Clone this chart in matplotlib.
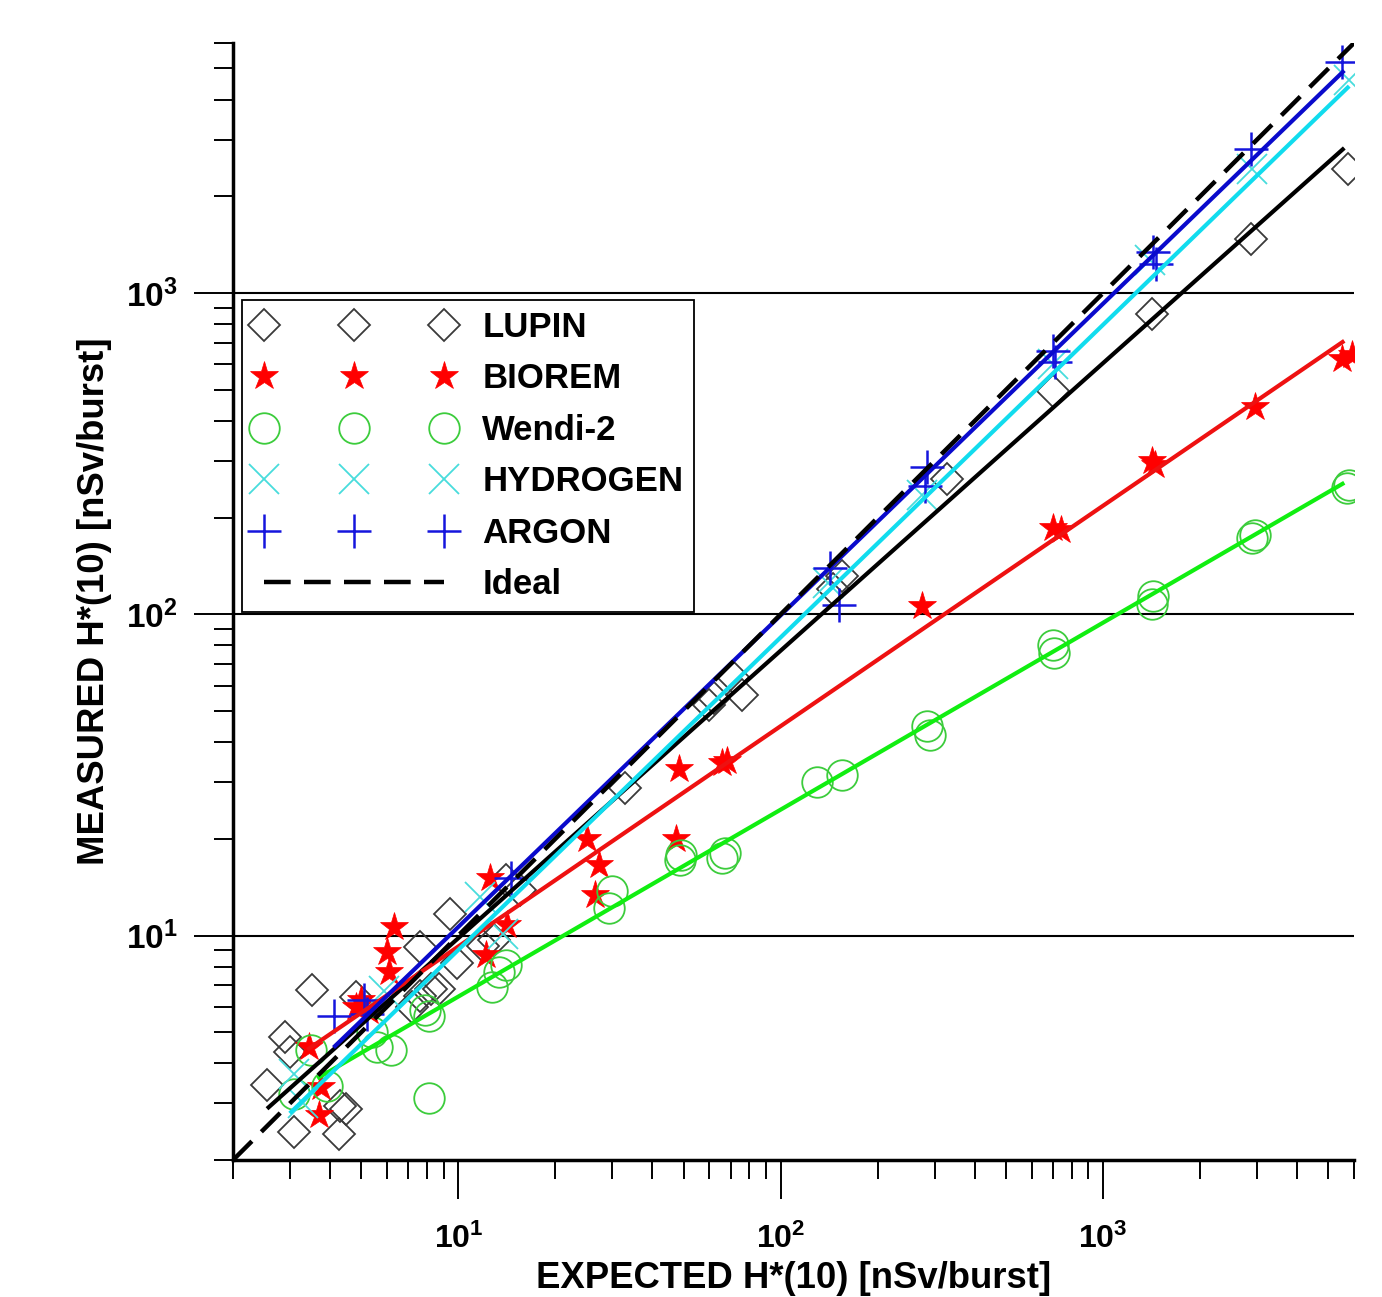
import numpy as np
import matplotlib as mpl
mpl.use("Agg")
import matplotlib.pyplot as plt
from matplotlib import font_manager
from matplotlib.ticker import LogLocator, FixedLocator, FixedFormatter, NullFormatter

mpl.rcParams.update({
	"mathtext.fontset": "custom",
	"mathtext.rm": "Liberation Sans",
	"mathtext.bf": "Liberation Sans:bold",
})

# Narrow bold is used for axis titles if installed.
FONT_NAMES = {f.name for f in font_manager.fontManager.ttflist}
if "Liberation Sans Narrow" in FONT_NAMES:
	NARROW, NSCALE = "Liberation Sans Narrow", 1.0
else:
	NARROW, NSCALE = "Liberation Sans", 0.82

# Measured vs expected H*(10) [nSv/burst].
lupin_x = [2.55, 2.90, 3.0, 3.52, 3.10, 4.27, 4.49, 4.3, 4.82, 7.2, 7.6, 8.2, 8.7,
	7.6, 9.4, 9.9, 11.9, 12.9, 14.1, 15.5, 32.8, 60, 62, 71, 75.7, 145, 155,
	328, 700, 1420, 2870, 5750]
lupin_y = [3.42, 4.82, 4.33, 6.75, 2.44, 2.41, 2.88, 2.95, 6.42, 6.0, 6.5, 6.8, 6.8,
	9.2, 11.7, 8.2, 9.3, 9.7, 14.9, 13.9, 28.8, 52, 55, 64, 56, 120, 132,
	263, 494, 861, 1470, 2425]

biorem_x = [3.44, 3.75, 3.7, 4.8, 5.0, 5.3, 6.3, 6.0, 6.1, 12.2, 12.5, 14.2, 25, 27.4,
	26.6, 47.5, 48.5, 65.6, 68, 274, 700, 740, 1420, 1450, 2950, 5500, 5900]
biorem_y = [4.49, 3.37, 2.76, 6.0, 6.3, 5.8, 10.6, 8.9, 7.7, 8.7, 15.1, 10.8, 20, 16.6,
	13.4, 20, 33, 34.4, 35, 106, 185, 183, 300, 292, 443, 625, 640]

wendi_x = [3.5, 3.1, 3.9, 5.6, 6.2, 5.4, 7.9, 8.1, 8.1, 12.7, 13.4, 14.1, 29.9, 29.4,
	48.6, 49, 65.6, 67, 130, 155, 285, 290, 700, 705, 1430, 1420, 2950, 2900, 5800, 5700]
wendi_y = [4.4, 3.2, 3.4, 4.5, 4.4, 5.0, 5.85, 5.6, 3.12, 6.9, 7.7, 8.1, 13.8, 12.2,
	17.2, 17.8, 17.4, 18, 30, 31.6, 45, 42, 80, 76, 114, 108, 176, 173, 252, 247]

hydrogen_x = [3.1, 3.3, 5.9, 11.7, 13.8, 140, 275, 700, 1400, 2900, 5800]
hydrogen_y = [3.7, 3.0, 6.7, 13.2, 10.1, 125, 235, 600, 1270, 2430, 4600]

argon_x = [4.1, 5.1, 5.2, 14.6, 142, 152, 285, 280, 700, 710, 1430, 1460, 2870, 5500]
argon_y = [5.6, 6.3, 5.7, 15.1, 139, 107, 288, 250, 660, 610, 1340, 1230, 2800, 5250]

# Power-law fits y = a * x**b and the x span of each fitted line.
fit_a = [1.25, 1.905, 1.69, 0.96, 1.14]
fit_b = [0.895, 0.686, 0.582, 0.973, 0.970]
fit_x0 = [2.55, 3.4, 3.65, 3.0, 4.1]
fit_x1 = [5600, 5600, 5600, 5800, 5600]

ideal_x = [2, 6000]

AXLIM = (2, 6000)
MAJORS = [10, 100, 1000]
MAJOR_LABELS = [r"$\mathbf{10^{1}}$", r"$\mathbf{10^{2}}$", r"$\mathbf{10^{3}}$"]

def main():
	fig = plt.figure(figsize=(13.82, 12.97), dpi=100)
	ax = fig.add_axes([0.1686, 0.1056, 0.8111, 0.8612])
	ax.set_xscale("log")
	ax.set_yscale("log")

	# Scatter series, drawn under the fit lines.
	series = [
		("LUPIN", lupin_x, lupin_y, dict(marker="D", ms=16, mfc="none", mec="#3a3a3a", mew=1.3)),
		("BIOREM", biorem_x, biorem_y, dict(marker="*", ms=21, mfc="#ff0000", mec="#ff0000", mew=0.5)),
		("Wendi-2", wendi_x, wendi_y, dict(marker="o", ms=22, mfc="none", mec="#3ccc3c", mew=1.3)),
		("HYDROGEN", hydrogen_x, hydrogen_y, dict(marker="x", ms=22, mec="#48dcdc", mew=1.3)),
		("ARGON", argon_x, argon_y, dict(marker="+", ms=24, mec="#1515dd", mew=1.8)),
	]
	handles = []
	for name, xs, ys, style in series:
		h, = ax.plot(xs, ys, linestyle="none", label=name, zorder=3, **style)
		handles.append(h)

	# Fitted lines.
	line_colors = ["#000000", "#ee1111", "#11ee11", "#11dcee", "#0a0acc"]
	for a, b, x0, x1, c in zip(fit_a, fit_b, fit_x0, fit_x1, line_colors):
		fx = np.array([x0, x1])
		ax.plot(fx, a * fx ** b, color=c, lw=3.0, solid_capstyle="butt", zorder=4)

	h, = ax.plot(ideal_x, ideal_x, color="black", lw=3.2, dashes=(6, 3), label="Ideal", zorder=5)
	handles.append(h)

	ax.set_xlim(*AXLIM)
	ax.set_ylim(*AXLIM)

	# Ticks: majors at decades, minors at 2..9, all pointing out.
	for axis in (ax.xaxis, ax.yaxis):
		axis.set_major_locator(FixedLocator(MAJORS))
		axis.set_major_formatter(FixedFormatter(MAJOR_LABELS))
		axis.set_minor_locator(LogLocator(base=10, subs=np.arange(2, 10)))
		axis.set_minor_formatter(NullFormatter())
	ax.tick_params(which="major", direction="out", length=28, width=1.4, color="black")
	ax.tick_params(which="minor", direction="out", length=14, width=1.4, color="black")
	ax.tick_params(axis="x", which="major", pad=18, labelsize=23)
	ax.tick_params(axis="y", which="major", pad=12, labelsize=24)

	ax.spines["top"].set_visible(False)
	ax.spines["right"].set_visible(False)
	ax.spines["left"].set_linewidth(2.5)
	ax.spines["bottom"].set_linewidth(2.5)

	ax.set_axisbelow(True)
	ax.yaxis.grid(True, which="major", color="black", lw=1.5)

	ax.set_xlabel("EXPECTED H*(10) [nSv/burst]", fontfamily=NARROW, fontweight="bold",
		fontsize=32 * NSCALE, labelpad=4)
	ax.set_ylabel("MEASURED H*(10) [nSv/burst]", fontfamily=NARROW, fontweight="bold",
		fontsize=32 * NSCALE, labelpad=10)

	leg = ax.legend(handles=handles, loc="upper left", bbox_to_anchor=(0.008, 0.770),
		borderaxespad=0, numpoints=3, handlelength=5.8, handletextpad=0.8,
		labelspacing=0.53, borderpad=0.32, fancybox=False, framealpha=1,
		edgecolor="black", prop={"family": "Liberation Sans", "weight": "bold", "size": 25})
	leg.get_frame().set_linewidth(1.3)
	leg.set_zorder(6)

	fig.savefig("out.png", dpi=100)

if __name__ == "__main__":
	main()
